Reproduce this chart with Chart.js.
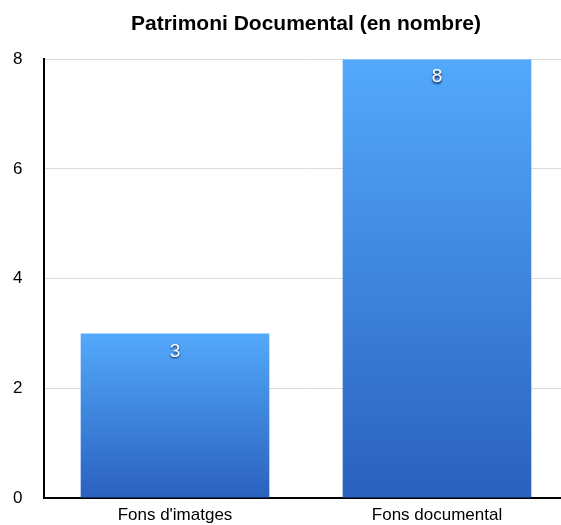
<!DOCTYPE html>
<html>
<head>
<meta charset="utf-8">
<script src="https://cdn.jsdelivr.net/npm/chart.js@4/dist/chart.umd.min.js"></script>
<style>
  html, body { margin: 0; padding: 0; background: #fff; overflow: hidden; width: 561px; height: 525px; }
  #wrap { position: absolute; left: 0; top: 0; width: 568px; height: 525px; }
</style>
</head>
<body>
<div id="wrap"><canvas id="chart"></canvas></div>
<script>
const categories = ["Fons d'imatges", 'Fons documental'];
const values = [3, 8];
const yTicks = [0, 2, 4, 6, 8];
const title = 'Patrimoni Documental (en nombre)';

const FONT = '"Liberation Sans", Arial, sans-serif';

// value inside the top of each bar, white with a dark shadow
const valueLabels = {
  id: 'valueLabels',
  afterDatasetsDraw(chart) {
    const c = chart.ctx;
    const meta = chart.getDatasetMeta(0);
    c.save();
    c.font = '19px ' + FONT;
    c.textAlign = 'center';
    c.textBaseline = 'middle';
    c.shadowColor = 'rgba(0,0,40,0.85)';
    c.shadowOffsetY = 1.5;
    c.shadowBlur = 2;
    c.fillStyle = '#fff';
    meta.data.forEach((bar, i) => {
      c.fillText(String(values[i]), bar.x, bar.y + 18);
    });
    c.restore();
  }
};

// gradient runs from the top of each bar down to its base
function barFill(context) {
  const chart = context.chart;
  if (!chart.chartArea || context.raw == null) return '#4a90e2';
  const y = chart.scales.y;
  const top = y.getPixelForValue(context.raw);
  const base = y.getPixelForValue(0);
  const g = chart.ctx.createLinearGradient(0, top, 0, base);
  g.addColorStop(0, '#53a9fb');
  g.addColorStop(1, '#2a61be');
  return g;
}

new Chart(document.getElementById('chart').getContext('2d'), {
  type: 'bar',
  data: {
    labels: categories,
    datasets: [{
      data: values,
      backgroundColor: barFill,
      borderWidth: 0,
      categoryPercentage: 1,
      barPercentage: 0.72
    }]
  },
  options: {
    responsive: true,
    maintainAspectRatio: false,
    animation: false,
    layout: { padding: { left: 13, right: 0, top: 0, bottom: 0 } },
    plugins: {
      legend: { display: false },
      tooltip: { enabled: false },
      title: {
        display: true,
        fullSize: false,
        text: title,
        color: '#000',
        font: { family: FONT, size: 21, weight: 'bold' },
        padding: { top: 12, bottom: 22 }
      }
    },
    scales: {
      x: {
        grid: { display: false, drawTicks: false },
        border: { color: '#000', width: 2 },
        afterFit(axis) { axis.height = 27; },
        ticks: {
          color: '#000',
          padding: 7,
          font: { family: FONT, size: 17 }
        }
      },
      y: {
        min: 0,
        max: 8,
        afterBuildTicks(axis) { axis.ticks = yTicks.map(v => ({ value: v })); },
        afterFit(axis) { axis.width = 31; },
        grid: { color: '#dcdcdc', drawTicks: false },
        border: { color: '#000', width: 2 },
        ticks: {
          color: '#000',
          padding: 0,
          crossAlign: 'far',
          font: { family: FONT, size: 17 }
        }
      }
    }
  },
  plugins: [valueLabels]
});
</script>
</body>
</html>
